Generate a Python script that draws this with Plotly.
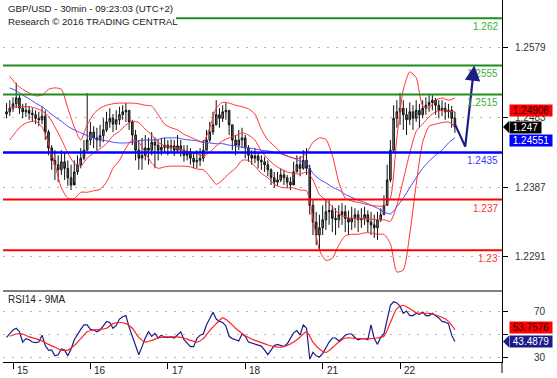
import plotly.graph_objects as go

# ---------------- data ----------------
# hourly bars, hours counted from 15 Nov 00:00 (trading time, weekend removed)
hours = list(range(-2, 138))
close = [1.2491, 1.2496, 1.2502, 1.2510, 1.2496, 1.2491, 1.2493, 1.2489, 1.2487, 1.2482,
         1.2480, 1.2485, 1.2463, 1.2441, 1.2424, 1.2418, 1.2411, 1.2422, 1.2413, 1.2400,
         1.2390, 1.2408, 1.2418, 1.2427, 1.2438, 1.2452, 1.2463, 1.2455, 1.2452, 1.2458,
         1.2466, 1.2477, 1.2482, 1.2474, 1.2480, 1.2487, 1.2491, 1.2493, 1.2477, 1.2459,
         1.2438, 1.2427, 1.2431, 1.2441, 1.2438, 1.2449, 1.2445, 1.2438, 1.2442, 1.2445,
         1.2441, 1.2444, 1.2438, 1.2444, 1.2438, 1.2431, 1.2434, 1.2427, 1.2422, 1.2424,
         1.2427, 1.2438, 1.2452, 1.2463, 1.2473, 1.2487, 1.2482, 1.2491, 1.2493, 1.2473,
         1.2452, 1.2445, 1.2452, 1.2455, 1.2441, 1.2431, 1.2427, 1.2430, 1.2424, 1.2422,
         1.2418, 1.2411, 1.2400, 1.2394, 1.2397, 1.2404, 1.2400, 1.2394, 1.2390, 1.2408,
         1.2418, 1.2413, 1.2424, 1.2413, 1.2362, 1.2339, 1.2321, 1.2331, 1.2342, 1.2353,
         1.2355, 1.2344, 1.2342, 1.2349, 1.2353, 1.2344, 1.2339, 1.2344, 1.2349, 1.2342,
         1.2344, 1.2349, 1.2339, 1.2335, 1.2331, 1.2342, 1.2349, 1.2362, 1.2397, 1.2438,
         1.2482, 1.2491, 1.2496, 1.2487, 1.2480, 1.2491, 1.2482, 1.2493, 1.2487, 1.2496,
         1.2500, 1.2504, 1.2507, 1.2500, 1.2493, 1.2496, 1.2491, 1.2493, 1.2482, 1.2470]
high = [1.2503, 1.2507, 1.2511, 1.2531, 1.2514, 1.2502, 1.2503, 1.2499, 1.2496, 1.2493,
        1.2491, 1.2498, 1.2493, 1.2466, 1.2445, 1.2438, 1.2431, 1.2438, 1.2435, 1.2424,
        1.2418, 1.2424, 1.2431, 1.2441, 1.2452, 1.2517, 1.2477, 1.2471, 1.2469, 1.2473,
        1.2482, 1.2491, 1.2496, 1.2488, 1.2493, 1.2498, 1.2500, 1.2503, 1.2493, 1.2480,
        1.2466, 1.2452, 1.2455, 1.2459, 1.2455, 1.2463, 1.2456, 1.2452, 1.2455, 1.2455,
        1.2452, 1.2453, 1.2452, 1.2459, 1.2452, 1.2445, 1.2445, 1.2441, 1.2435, 1.2438,
        1.2441, 1.2452, 1.2466, 1.2477, 1.2491, 1.2507, 1.2496, 1.2500, 1.2503, 1.2493,
        1.2473, 1.2459, 1.2466, 1.2469, 1.2459, 1.2445, 1.2438, 1.2441, 1.2435, 1.2431,
        1.2429, 1.2424, 1.2413, 1.2408, 1.2408, 1.2413, 1.2411, 1.2404, 1.2401, 1.2422,
        1.2431, 1.2430, 1.2438, 1.2441, 1.2418, 1.2369, 1.2353, 1.2349, 1.2362, 1.2369,
        1.2369, 1.2362, 1.2358, 1.2362, 1.2365, 1.2362, 1.2355, 1.2360, 1.2358, 1.2355,
        1.2358, 1.2360, 1.2355, 1.2353, 1.2349, 1.2353, 1.2358, 1.2376, 1.2418, 1.2452,
        1.2500, 1.2507, 1.2517, 1.2507, 1.2496, 1.2504, 1.2500, 1.2507, 1.2502, 1.2507,
        1.2511, 1.2514, 1.2514, 1.2510, 1.2507, 1.2507, 1.2504, 1.2502, 1.2499, 1.2491]
low = [1.2482, 1.2485, 1.2491, 1.2496, 1.2488, 1.2482, 1.2484, 1.2480, 1.2477, 1.2474,
       1.2471, 1.2474, 1.2452, 1.2431, 1.2411, 1.2397, 1.2394, 1.2404, 1.2397, 1.2389,
       1.2383, 1.2394, 1.2404, 1.2413, 1.2424, 1.2438, 1.2445, 1.2441, 1.2438, 1.2442,
       1.2449, 1.2463, 1.2469, 1.2463, 1.2466, 1.2473, 1.2480, 1.2477, 1.2466, 1.2445,
       1.2424, 1.2411, 1.2411, 1.2424, 1.2418, 1.2431, 1.2413, 1.2424, 1.2431, 1.2435,
       1.2431, 1.2434, 1.2430, 1.2435, 1.2429, 1.2422, 1.2424, 1.2418, 1.2413, 1.2413,
       1.2416, 1.2422, 1.2438, 1.2449, 1.2459, 1.2473, 1.2469, 1.2477, 1.2480, 1.2459,
       1.2438, 1.2431, 1.2438, 1.2441, 1.2427, 1.2422, 1.2418, 1.2420, 1.2413, 1.2411,
       1.2408, 1.2402, 1.2390, 1.2386, 1.2389, 1.2394, 1.2390, 1.2386, 1.2383, 1.2397,
       1.2408, 1.2402, 1.2411, 1.2404, 1.2349, 1.2321, 1.2307, 1.2300, 1.2321, 1.2328,
       1.2335, 1.2325, 1.2321, 1.2331, 1.2335, 1.2325, 1.2321, 1.2328, 1.2331, 1.2325,
       1.2331, 1.2335, 1.2325, 1.2321, 1.2317, 1.2314, 1.2339, 1.2349, 1.2362, 1.2394,
       1.2435, 1.2469, 1.2473, 1.2466, 1.2459, 1.2473, 1.2466, 1.2477, 1.2469, 1.2482,
       1.2487, 1.2491, 1.2493, 1.2487, 1.2482, 1.2485, 1.2480, 1.2482, 1.2469, 1.2462]
first_open = 1.2488

# indicator lines, sampled every 2 hours
ind_hours = list(range(-1, 138, 2))
bb_upper = [1.2540, 1.2529, 1.2522, 1.2517, 1.2513, 1.2514, 1.2522, 1.2524, 1.2522, 1.2496,
            1.2470, 1.2452, 1.2473, 1.2488, 1.2496, 1.2500, 1.2502, 1.2503, 1.2503, 1.2503,
            1.2502, 1.2500, 1.2499, 1.2487, 1.2474, 1.2469, 1.2466, 1.2460, 1.2456, 1.2452,
            1.2449, 1.2469, 1.2496, 1.2504, 1.2503, 1.2500, 1.2498, 1.2495, 1.2488, 1.2467,
            1.2452, 1.2444, 1.2435, 1.2430, 1.2427, 1.2427, 1.2434, 1.2449, 1.2455, 1.2453,
            1.2431, 1.2394, 1.2372, 1.2368, 1.2366, 1.2364, 1.2362, 1.2361, 1.2361, 1.2372,
            1.2455, 1.2521, 1.2546, 1.2538, 1.2499, 1.2496, 1.2507, 1.2510, 1.2507, 1.2510]
bb_mid = [1.2496, 1.2498, 1.2498, 1.2498, 1.2496, 1.2492, 1.2485, 1.2470, 1.2453, 1.2434,
          1.2420, 1.2416, 1.2427, 1.2434, 1.2440, 1.2447, 1.2458, 1.2464, 1.2473, 1.2478,
          1.2476, 1.2467, 1.2459, 1.2449, 1.2444, 1.2442, 1.2441, 1.2438, 1.2435, 1.2433,
          1.2430, 1.2435, 1.2444, 1.2451, 1.2455, 1.2458, 1.2462, 1.2459, 1.2452, 1.2437,
          1.2426, 1.2418, 1.2412, 1.2408, 1.2406, 1.2405, 1.2408, 1.2397, 1.2377, 1.2369,
          1.2360, 1.2350, 1.2346, 1.2344, 1.2344, 1.2343, 1.2343, 1.2342, 1.2342, 1.2340,
          1.2362, 1.2397, 1.2434, 1.2464, 1.2474, 1.2484, 1.2491, 1.2493, 1.2492, 1.24908]
bb_lower = [1.2452, 1.2464, 1.2473, 1.2477, 1.2478, 1.2470, 1.2448, 1.2418, 1.2386, 1.2372,
            1.2371, 1.2380, 1.2380, 1.2382, 1.2384, 1.2394, 1.2413, 1.2424, 1.2441, 1.2452,
            1.2449, 1.2435, 1.2420, 1.2413, 1.2415, 1.2416, 1.2416, 1.2416, 1.2415, 1.2412,
            1.2411, 1.2402, 1.2391, 1.2397, 1.2406, 1.2413, 1.2424, 1.2424, 1.2416, 1.2406,
            1.2400, 1.2391, 1.2387, 1.2386, 1.2386, 1.2383, 1.2382, 1.2344, 1.2300, 1.2286,
            1.2289, 1.2307, 1.2320, 1.2322, 1.2322, 1.2324, 1.2324, 1.2322, 1.2322, 1.2309,
            1.2270, 1.2273, 1.2322, 1.2391, 1.2449, 1.2471, 1.2474, 1.2476, 1.2477, 1.2471]
ma_blue = [1.2524, 1.2520, 1.2514, 1.2509, 1.2503, 1.2498, 1.2491, 1.2484, 1.2478, 1.2471,
           1.2466, 1.2462, 1.2458, 1.2455, 1.2452, 1.2451, 1.2449, 1.2448, 1.2448, 1.2449,
           1.2451, 1.2452, 1.2452, 1.2453, 1.2455, 1.2455, 1.2455, 1.2453, 1.2452, 1.2451,
           1.2449, 1.2448, 1.2447, 1.2447, 1.2445, 1.2444, 1.2442, 1.2441, 1.2440, 1.2438,
           1.2437, 1.2435, 1.2433, 1.2430, 1.2427, 1.2423, 1.2420, 1.2406, 1.2398, 1.2393,
           1.2387, 1.2383, 1.2377, 1.2373, 1.2369, 1.2366, 1.2362, 1.2358, 1.2353, 1.2350,
           1.2360, 1.2372, 1.2386, 1.2400, 1.2413, 1.2423, 1.2431, 1.2438, 1.2448, 1.24551]

rsi = [47, 50, 53.5, 55, 52, 43, 46, 45, 43, 42.5,
       43, 49, 40, 36, 36, 31, 32, 37, 36, 31,
       37, 45, 50, 54, 58, 58, 54, 53.5, 52, 53.5,
       57, 61, 60, 55, 57.5, 63, 65, 66, 56, 48,
       40, 32, 39, 46.5, 52, 48, 50.5, 46.5, 49, 47,
       47, 47.5, 46.5, 49, 52, 45, 42, 39, 39, 46,
       49, 50, 58, 64, 69, 63, 61, 60, 57, 48,
       46, 45, 44, 50, 48, 43, 42, 41.5, 40.4, 39.5,
       36, 32, 36, 40, 41, 40, 39, 41.5, 46, 51,
       53, 49, 58, 55, 28, 34, 31, 30, 33, 38,
       43, 46.5, 46.5, 44, 46, 49, 50, 50, 47, 45,
       46, 46, 45, 58, 46, 41, 47, 50, 64, 75,
       78, 77, 74, 68, 70, 66, 66, 68, 67, 69,
       66, 66, 68, 66, 64, 61, 60.4, 59, 49, 43.4879]
rsi_ma = [48, 50, 50, 47.5, 46, 44, 41, 38.5, 36, 36,
          40, 46, 52, 53.5, 54, 55, 59, 60, 59, 55,
          47, 43, 44.5, 46.5, 47.5, 47.5, 47.5, 46.5, 44.5, 43,
          46, 53, 59, 64, 60.5, 55, 50.5, 47, 44.5, 42.5,
          40.4, 39, 38.5, 40, 43, 47.4, 52, 43, 37, 34,
          38, 43, 46.5, 46.5, 46, 46, 46, 46.5, 48, 60,
          72, 75, 72, 68.5, 68, 68, 66.5, 64.5, 61, 53.7576]

res_levels = [1.262, 1.2555, 1.2515]
res_labels = ["1.262", "1.2555", "1.2515"]
pivot_levels = [1.2435]
pivot_labels = ["1.2435"]
sup_levels = [1.237, 1.23]
sup_labels = ["1.237", "1.23"]

price_ticks = [1.2291, 1.2387, 1.2483, 1.2579]
price_tick_text = ["1.2291", "1.2387", "1.2483", "1.2579"]
rsi_ticks = [30, 50, 70]
rsi_tick_text = ["30", "", "70"]   # the 50 label is hidden behind the value boxes
day_ticks = [0, 24, 48, 72, 96, 120]
day_labels = ["15", "16", "17", "18", "21", "22"]

arrow_hours = [137, 140.2, 143]
arrow_prices = [1.2474, 1.2443, 1.2555]

# ---------------- figure ----------------
W, H = 557, 378
ML, MR, MT, MB = 3, 55, 0, 16
plot_w = W - ML - MR
plot_h = H - MT - MB
split = 71 / plot_h          # RSI pane height fraction

FONT = "Liberation Sans, Arial, sans-serif"
TXT = "#333333"
GREEN = "#1e8c1e"
GREEN_T = "#3cae3c"
BLUE = "#0000ff"
RED = "#ff0000"
NAVY = "#1c1c86"
NB = "\u00a0"


def px_to_paper_x(px):
    return (px - ML) / plot_w


opens = [first_open] + close[:-1]

fig = go.Figure()

fig.add_trace(go.Scatter(x=ind_hours, y=ma_blue, mode="lines",
                         line=dict(color="#4848ff", width=1, shape="spline", smoothing=0.6),
                         hoverinfo="skip", xaxis="x", yaxis="y"))
for band in (bb_upper, bb_mid, bb_lower):
    fig.add_trace(go.Scatter(x=ind_hours, y=band, mode="lines",
                             line=dict(color="#ff3030", width=1, shape="spline", smoothing=0.6),
                             hoverinfo="skip", xaxis="x", yaxis="y"))

fig.add_trace(go.Candlestick(
    x=hours, open=opens, high=high, low=low, close=close,
    increasing=dict(line=dict(color="#111111", width=1), fillcolor="#8a8a8a"),
    decreasing=dict(line=dict(color="#111111", width=1), fillcolor="#5e5e5e"),
    whiskerwidth=0, hoverinfo="skip", xaxis="x", yaxis="y"))

# forecast arrow
head_from_h = arrow_hours[1] + 0.85 * (arrow_hours[2] - arrow_hours[1])
head_from_p = arrow_prices[1] + 0.85 * (arrow_prices[2] - arrow_prices[1])
fig.add_trace(go.Scatter(x=arrow_hours[:2] + [head_from_h], y=arrow_prices[:2] + [head_from_p],
                         mode="lines", line=dict(color=NAVY, width=2.2),
                         hoverinfo="skip", xaxis="x", yaxis="y"))

# RSI pane
fig.add_trace(go.Scatter(x=hours, y=rsi, mode="lines",
                         line=dict(color=NAVY, width=1.2),
                         hoverinfo="skip", xaxis="x", yaxis="y2"))
fig.add_trace(go.Scatter(x=ind_hours, y=rsi_ma, mode="lines",
                         line=dict(color="#ff2020", width=1.2, shape="spline", smoothing=0.6),
                         hoverinfo="skip", xaxis="x", yaxis="y2"))

shapes = []
annotations = []


def level(levels, labels, color, tcolor, width):
    for lv, lb in zip(levels, labels):
        shapes.append(dict(type="line", xref="paper", x0=0, x1=1, yref="y", y0=lv, y1=lv,
                           line=dict(color=color, width=width), layer="above"))
        annotations.append(dict(xref="paper", x=1, xanchor="right", xshift=-2,
                                yref="y", y=lv, yanchor="top", yshift=-1,
                                text=lb, showarrow=False,
                                font=dict(family=FONT, size=10, color=tcolor)))


level(res_levels, res_labels, GREEN, GREEN_T, 2)
level(pivot_levels, pivot_labels, BLUE, "#3838ff", 2.5)
level(sup_levels, sup_labels, RED, "#ff3030", 2)

# white area behind the title (hides the start of the top level line)
shapes.append(dict(type="rect", xref="paper", x0=-0.01, x1=px_to_paper_x(176),
                   yref="paper", y0=1 - 31 / plot_h, y1=1.01,
                   fillcolor="#ffffff", line=dict(width=0), layer="above"))

# pane separator and axis extension
shapes.append(dict(type="line", xref="paper", x0=0, x1=1, yref="paper", y0=split, y1=split,
                   line=dict(color="#000000", width=1)))
shapes.append(dict(type="line", xref="paper", x0=1, x1=1, yref="paper", y0=0, y1=-11 / plot_h,
                   line=dict(color="#000000", width=1)))

# axis tick labels (right aligned)
lab_x = px_to_paper_x(548)
for v, t in zip(price_ticks, price_tick_text):
    annotations.append(dict(xref="paper", x=lab_x, xanchor="right", yref="y", y=v,
                            yanchor="middle", text=t, showarrow=False,
                            font=dict(family=FONT, size=10, color=TXT)))
for v, t in zip(rsi_ticks, rsi_tick_text):
    if t:
        annotations.append(dict(xref="paper", x=lab_x, xanchor="right", yref="y2", y=v,
                                yanchor="middle", text=t, showarrow=False,
                                font=dict(family=FONT, size=10, color=TXT)))
for d, t in zip(day_ticks, day_labels):
    annotations.append(dict(xref="x", x=d, xanchor="left", xshift=2, yref="paper", y=0,
                            yanchor="top", yshift=-1, text=t, showarrow=False,
                            font=dict(family=FONT, size=10, color="#222222")))

# value boxes on the right
box_x = px_to_paper_x(509)


def value_box(yref, val, text, bg, fg, yshift=0, pointer=False):
    annotations.append(dict(xref="paper", x=box_x, xanchor="left", yref=yref, y=val,
                            yanchor="middle", yshift=yshift, text=NB + text + NB,
                            showarrow=False, bgcolor=bg, borderpad=0,
                            font=dict(family=FONT, size=10, color=fg)))
    if pointer:
        shapes.append(dict(type="path", xref="paper", xsizemode="pixel", xanchor=1,
                           yref=yref, ysizemode="pixel", yanchor=val,
                           path="M 1,%d L 7,%d L 7,%d Z" % (yshift, yshift + 6, yshift - 6),
                           fillcolor=bg, line=dict(width=0)))


value_box("y", bb_mid[-1], "%.5f" % bb_mid[-1], RED, "#2a0000", yshift=1)
value_box("y", close[-1], "%.3f" % close[-1], "#000000", "#ffffff", pointer=True)
value_box("y", ma_blue[-1], "%.5f" % ma_blue[-1], BLUE, "#ffffff", yshift=-3)
value_box("y2", rsi_ma[-1], "%.4f" % rsi_ma[-1], RED, "#2a0000", yshift=2)
value_box("y2", rsi[-1], "%.4f" % rsi[-1], NAVY, "#ffffff", pointer=True)

# arrow head
annotations.append(dict(xref="x", yref="y", x=arrow_hours[2], y=arrow_prices[2],
                        axref="x", ayref="y", ax=head_from_h, ay=head_from_p,
                        showarrow=True, arrowhead=2, arrowsize=1.4, arrowwidth=2.2,
                        arrowcolor=NAVY, standoff=0, text=""))

# titles
annotations.append(dict(xref="paper", x=0, xanchor="left", xshift=3, yref="paper", y=1,
                        yanchor="top", yshift=-1, align="left", showarrow=False,
                        text="GBP/USD - 30min - 09:23:03 (UTC+2)<br>Research © 2016 TRADING CENTRAL",
                        font=dict(family=FONT, size=9.7, color="#222222")))
annotations.append(dict(xref="paper", x=0, xanchor="left", xshift=3, yref="paper", y=split,
                        yanchor="top", yshift=-1, showarrow=False, text="RSI14 - 9MA",
                        font=dict(family=FONT, size=10, color="#222222")))

grid = dict(showgrid=True, gridcolor="#b4b4b4", gridwidth=1, griddash="2px,7px")

fig.update_layout(
    width=W, height=H,
    margin=dict(l=ML, r=MR, t=MT, b=MB, pad=0),
    paper_bgcolor="#ffffff", plot_bgcolor="#ffffff",
    showlegend=False,
    xaxis=dict(domain=[0, 1], anchor="y2", range=[-3.1, 151.6],
               showgrid=False, zeroline=False, showline=True, linecolor="#000000", linewidth=1,
               tickmode="array", tickvals=day_ticks, ticks="outside", ticklen=6,
               tickcolor="#000000", showticklabels=False,
               rangeslider=dict(visible=False), fixedrange=True),
    yaxis=dict(domain=[split, 1], anchor="x", side="right", range=[1.22438, 1.26452],
               zeroline=False, showline=True, linecolor="#000000", linewidth=1,
               tickmode="array", tickvals=price_ticks, ticks="outside", ticklen=5,
               tickcolor="#000000", showticklabels=False, **grid),
    yaxis2=dict(domain=[0, split], anchor="x", side="right", range=[25.65, 87.39],
                zeroline=False, showline=True, linecolor="#000000", linewidth=1,
                tickmode="array", tickvals=rsi_ticks, ticks="outside", ticklen=5,
                tickcolor="#000000", showticklabels=False, **grid),
    shapes=shapes,
    annotations=annotations,
)

fig.write_html("out.html")
